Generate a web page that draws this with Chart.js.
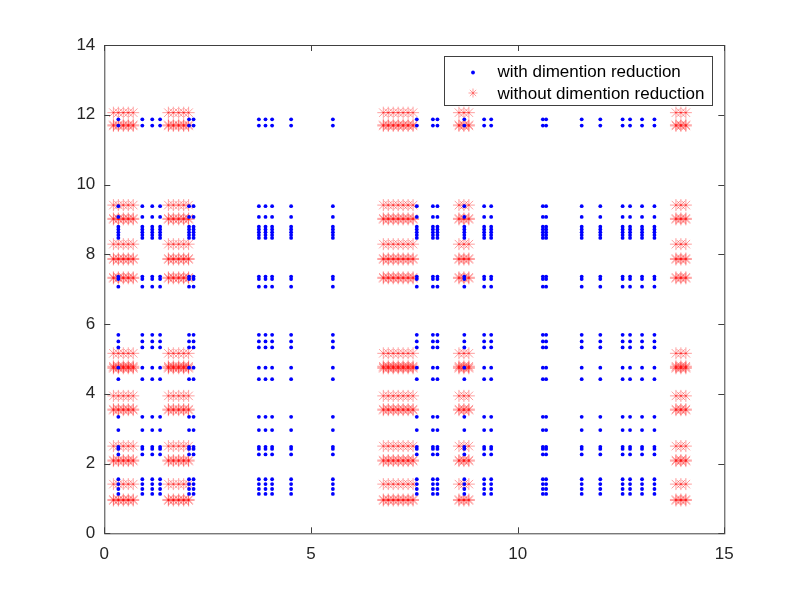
<!DOCTYPE html>
<html>
<head>
<meta charset="utf-8">
<script src="https://cdn.jsdelivr.net/npm/chart.js@4.4.1/dist/chart.umd.min.js"></script>
<style>
    body { margin: 0; background: #ffffff; }
    #grafico { display: block; }
</style>
</head>
<body>
<canvas id="grafico" width="800" height="600"></canvas>
<script>
// colunas (x) e linhas (y) dos pontos azuis - with dimention reduction
const blueX = [0.34, 0.92, 1.16, 1.35, 2.05, 2.16, 3.74, 3.90, 4.06, 4.52, 5.53,
               7.56, 7.95, 8.06, 8.71, 9.19, 9.36, 10.61, 10.69,
               11.55, 12.00, 12.54, 12.72, 13.01, 13.31];
const blueY = [11.87, 11.69, 9.38, 9.07, 8.79, 8.71, 8.63, 8.55, 8.47, 7.36, 7.29, 7.07,
               5.69, 5.50, 5.33, 4.75, 4.42, 3.34, 2.96, 2.48, 2.42, 2.26,
               1.55, 1.41, 1.27, 1.13];

// colunas (x) e linhas (y) dos asteriscos vermelhos - without dimention reduction
const redX = [0.22, 0.34, 0.46, 0.58, 0.70,
              1.55, 1.67, 1.80, 1.92, 2.04,
              6.75, 6.87, 6.99, 7.11, 7.23, 7.35, 7.47,
              8.58, 8.70, 8.82,
              13.83, 13.95, 14.07];
const redY = [12.06, 11.71, 11.68, 9.41, 9.03, 9.00, 8.29, 7.88, 7.85, 7.34, 7.31,
              5.16, 4.79, 4.76, 4.73, 3.94, 3.56, 3.53, 2.50, 2.10, 2.07, 1.41, 0.97, 0.94];

const xTicks = [0, 5, 10, 15];
const yTicks = [0, 2, 4, 6, 8, 10, 12, 14];
const nomesSeries = ['with dimention reduction', 'without dimention reduction'];

const corEixo = '#404040';
const fonteTexto = '"Liberation Sans", Arial, sans-serif';

function montarPontos(xs, ys) {
    let pontos = [];
    xs.forEach(x => {
        ys.forEach(y => {
            pontos.push({ x: x, y: y });
        });
    });
    return pontos;
}

// moldura, ticks internos e legenda dentro da area do grafico
const moldura = {
    id: 'moldura',
    afterDraw(chart) {
        const ctx = chart.ctx;
        const area = chart.chartArea;
        const sx = chart.scales.x;
        const sy = chart.scales.y;
        const tam = 6;

        ctx.save();
        ctx.strokeStyle = corEixo;
        ctx.lineWidth = 1;
        ctx.strokeRect(area.left + 0.5, area.top + 0.5, area.right - area.left, area.bottom - area.top);

        ctx.beginPath();
        xTicks.forEach(v => {
            let px = Math.round(sx.getPixelForValue(v)) + 0.5;
            ctx.moveTo(px, area.bottom);
            ctx.lineTo(px, area.bottom - tam);
            ctx.moveTo(px, area.top);
            ctx.lineTo(px, area.top + tam);
        });
        yTicks.forEach(v => {
            let py = Math.round(sy.getPixelForValue(v)) + 0.5;
            ctx.moveTo(area.left, py);
            ctx.lineTo(area.left + tam, py);
            ctx.moveTo(area.right, py);
            ctx.lineTo(area.right - tam, py);
        });
        ctx.stroke();

        // legenda
        const lx = 444.5, ly = 56.5, lw = 268, lh = 49;
        ctx.fillStyle = '#ffffff';
        ctx.fillRect(lx, ly, lw, lh);
        ctx.strokeStyle = corEixo;
        ctx.strokeRect(lx, ly, lw, lh);

        const ds = chart.data.datasets;
        Chart.helpers.drawPoint(ctx, {
            pointStyle: ds[0].pointStyle, radius: ds[0].pointRadius, borderWidth: 0
        }, 473, 72.5);
        ctx.fillStyle = ds[0].backgroundColor;
        ctx.fill();

        ctx.strokeStyle = ds[1].borderColor;
        ctx.lineWidth = ds[1].borderWidth;
        Chart.helpers.drawPoint(ctx, {
            pointStyle: ds[1].pointStyle, radius: 4.5, borderWidth: ds[1].borderWidth
        }, 473, 93);

        ctx.fillStyle = '#000000';
        ctx.font = '17px ' + fonteTexto;
        ctx.textBaseline = 'alphabetic';
        ctx.textAlign = 'left';
        ctx.fillText(ds[0].label, 497.5, 77);
        ctx.fillText(ds[1].label, 497.5, 98.5);
        ctx.restore();
    }
};

const grafico = new Chart(document.getElementById('grafico'), {
    type: 'scatter',
    data: {
        datasets: [
            {
                label: nomesSeries[0],
                data: montarPontos(blueX, blueY),
                pointStyle: 'circle',
                pointRadius: 1.9,
                backgroundColor: '#0000ff',
                borderWidth: 0
            },
            {
                label: nomesSeries[1],
                data: montarPontos(redX, redY),
                pointStyle: 'star',
                pointRadius: 6,
                borderColor: 'rgba(255, 0, 0, 0.55)',
                backgroundColor: 'transparent',
                borderWidth: 0.7
            }
        ]
    },
    options: {
        responsive: false,
        animation: false,
        events: [],
        layout: { padding: { top: 45, right: 75.7, left: 0, bottom: 0 } },
        plugins: {
            legend: { display: false },
            tooltip: { enabled: false }
        },
        scales: {
            x: {
                type: 'linear',
                min: 0,
                max: 15,
                afterBuildTicks: s => { s.ticks = xTicks.map(v => ({ value: v })); },
                afterFit: s => { s.height = 66.7; },
                ticks: { color: '#262626', font: { size: 17, family: fonteTexto }, padding: 11, maxRotation: 0 },
                grid: { display: false, drawTicks: false },
                border: { display: false }
            },
            y: {
                type: 'linear',
                min: 0,
                max: 14,
                afterBuildTicks: s => { s.ticks = yTicks.map(v => ({ value: v })); },
                afterFit: s => { s.width = 104.3; },
                ticks: { color: '#262626', font: { size: 17, family: fonteTexto }, padding: 9 },
                grid: { display: false, drawTicks: false },
                border: { display: false }
            }
        }
    },
    plugins: [moldura]
});
</script>
</body>
</html>
